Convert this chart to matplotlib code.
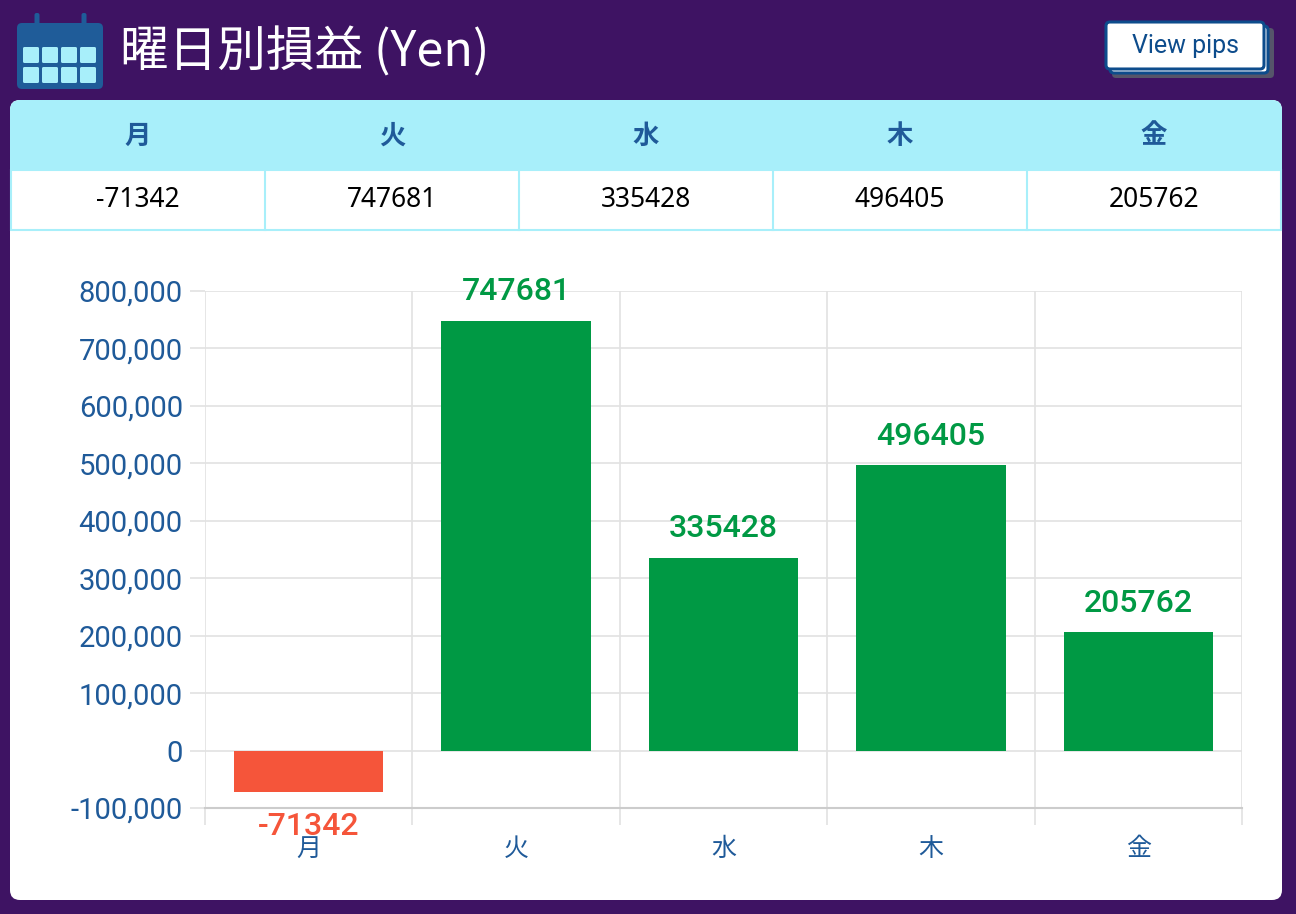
import matplotlib
matplotlib.use("Agg")
import matplotlib.pyplot as plt
from matplotlib.patches import FancyBboxPatch, Rectangle
from matplotlib.ticker import FuncFormatter, FixedLocator

plt.rcParams['font.family'] = ['Noto Sans CJK JP', 'DejaVu Sans']
plt.rcParams['axes.unicode_minus'] = False

# data
days = ['月', '火', '水', '木', '金']
profit = [-71342, 747681, 335428, 496405, 205762]
yticks = [-100000, 0, 100000, 200000, 300000, 400000, 500000, 600000, 700000, 800000]
title = '曜日別損益 (Yen)'
button_text = 'View pips'

purple = '#3E1363'
cyan = '#A8EFFA'
navy = '#1F5A99'
green = '#009944'
red = '#F5553A'
grid_c = '#E2E2E2'

W, H = 1296, 914
fig = plt.figure(figsize=(W / 100, H / 100), dpi=100, facecolor=purple)

# background layer in pixel coords
bg = fig.add_axes([0, 0, 1, 1])
bg.set_xlim(0, W)
bg.set_ylim(H, 0)
bg.axis('off')

# card
bg.add_patch(FancyBboxPatch((10, 100), 1272, 800, boxstyle='round,pad=0,rounding_size=10',
                            fc='white', ec='none'))
# table header
bg.add_patch(FancyBboxPatch((10, 100), 1272, 90, boxstyle='round,pad=0,rounding_size=10',
                            fc=cyan, ec='none'))
bg.add_patch(Rectangle((10, 170), 1272, 61, fc='white', ec='none'))
bg.add_patch(Rectangle((11, 170), 1270, 60, fc='none', ec=cyan, lw=1.5))
col_w = 254
for i in range(len(days)):
    cx = 11 + col_w * (i + 0.5)
    if i > 0:
        bg.plot([11 + col_w * i] * 2, [170, 230], color=cyan, lw=1.5)
    bg.text(cx, 136, days[i], ha='center', va='center', fontsize=19,
            fontweight='bold', color=navy)
    bg.text(cx, 200, str(profit[i]), ha='center', va='center', fontsize=19,
            color='black', family=['Noto Sans', 'DejaVu Sans'])

# calendar icon
bg.add_patch(FancyBboxPatch((17, 23), 86, 66, boxstyle='round,pad=0,rounding_size=5',
                            fc='#1F5C99', ec='none'))
for rx in (37, 84):
    bg.add_patch(FancyBboxPatch((rx - 2.5, 13), 5, 14, boxstyle='round,pad=0,rounding_size=2',
                                fc='#1F5C99', ec='none'))
for r, y0 in enumerate((47, 67)):
    for c in range(4):
        bg.add_patch(FancyBboxPatch((23 + c * 19, y0), 16, 16,
                                    boxstyle='round,pad=0,rounding_size=1.5',
                                    fc=cyan, ec='none'))

bg.text(120, 52, title, ha='left', va='center', fontsize=35, color='white')

# view pips button
bg.add_patch(FancyBboxPatch((1112, 28), 162, 50, boxstyle='round,pad=0,rounding_size=4',
                            fc='#55556A', ec='none'))
bg.add_patch(FancyBboxPatch((1110, 26), 158, 47, boxstyle='round,pad=0,rounding_size=4',
                            fc='white', ec='#0D4C8C', lw=2.2))
bg.add_patch(FancyBboxPatch((1106, 22), 158, 47, boxstyle='round,pad=0,rounding_size=4',
                            fc='white', ec='#0D4C8C', lw=2.2))
bg.text(1185, 46, button_text, ha='center', va='center', fontsize=18,
        color='#0D4C8C', family=['Roboto', 'DejaVu Sans'])

# chart
left, right, top, bottom = 205, 1242, 291, 808
ax = fig.add_axes([left / W, 1 - bottom / H, (right - left) / W, (bottom - top) / H])
ax.set_facecolor('none')
x = list(range(len(days)))
colors = [green if v >= 0 else red for v in profit]
ax.bar(x, profit, width=0.72, color=colors, zorder=3)
ax.set_xlim(-0.5, len(days) - 0.5)
ax.set_ylim(yticks[0], yticks[-1])

ax.set_yticks(yticks)
ax.yaxis.set_major_formatter(FuncFormatter(lambda v, p: f'{int(v):,}'))
ax.set_xticks(x)
ax.set_xticklabels(days)
ax.xaxis.set_minor_locator(FixedLocator([i - 0.5 for i in range(len(days) + 1)]))

ax.grid(True, axis='y', color=grid_c, lw=1.2, zorder=0)
ax.grid(True, axis='x', which='minor', color=grid_c, lw=1.2, zorder=0)
ax.tick_params(axis='x', which='major', length=0, pad=20, labelsize=18, labelcolor=navy)
ax.tick_params(axis='x', which='minor', length=12, width=1.2, color=grid_c)
ax.tick_params(axis='y', length=11, width=1.2, color=grid_c, pad=5, labelsize=21,
               labelcolor=navy)
for lab in ax.get_yticklabels():
    lab.set_family(['Roboto', 'DejaVu Sans'])
for s in ('top', 'right', 'left'):
    ax.spines[s].set_visible(False)
ax.spines['bottom'].set_color('#CCCCCC')
ax.spines['bottom'].set_linewidth(1.5)
ax.spines['bottom'].set_position(('data', yticks[0]))

for xi, v, c in zip(x, profit, colors):
    if v >= 0:
        ax.annotate(str(v), (xi, v), xytext=(0, 15), textcoords='offset points',
                    ha='center', va='baseline', fontsize=23, fontweight='medium',
                    color=c, family=['Roboto', 'DejaVu Sans'], zorder=4,
                    annotation_clip=False)
    else:
        ax.annotate(str(v), (xi, v), xytext=(0, -15), textcoords='offset points',
                    ha='center', va='top', fontsize=23, fontweight='medium',
                    color=c, family=['Roboto', 'DejaVu Sans'], zorder=4,
                    annotation_clip=False)

fig.savefig('out.png', dpi=100, facecolor=purple)
